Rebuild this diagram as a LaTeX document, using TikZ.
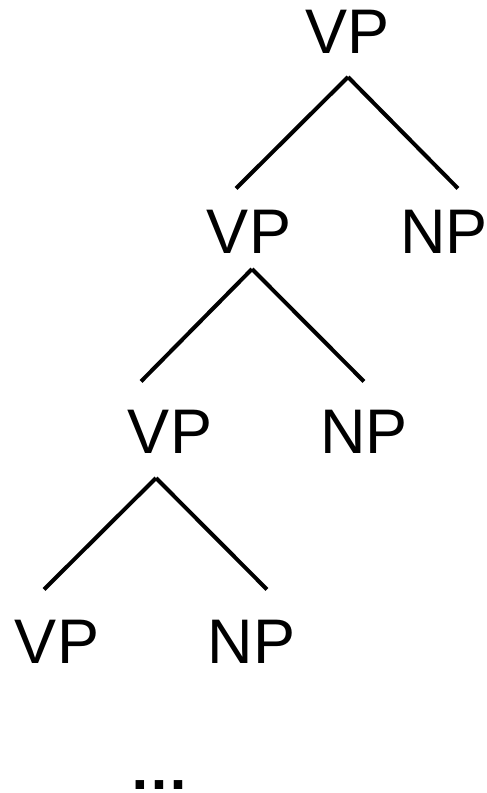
\documentclass[tikz,border=0pt]{standalone}
\usepackage{fontspec}
\setmainfont{Liberation Sans}

\begin{document}
\begin{tikzpicture}[
        x = 1pt, y = -1pt,
        cat/.style = {anchor=base, inner sep=0pt, font=\fontsize{63}{70}\selectfont},
        branch/.style = {line width=4pt, line cap=butt}
    ]
    \useasboundingbox (0,0) rectangle (487,793);
    % categories
    \node (vp1) [cat] at (347.5,53)  {VP};
    \node (vp2) [cat] at (249,253)   {VP};
    \node (np2) [cat] at (444,253)   {NP};
    \node (vp3) [cat] at (170,453)   {VP};
    \node (np3) [cat] at (364,453)   {NP};
    \node (vp4) [cat] at (57,663)    {VP};
    \node (np4) [cat] at (251.5,663) {NP};
    \node (dots) [cat, font=\fontsize{60}{66}\selectfont\bfseries] at (159.5,789) {…};
    % branches
    \draw[branch] ([xshift=0.5pt,yshift=-24pt]vp1.base) -- ([xshift=-13pt,yshift=21pt]vp2.north);
    \draw[branch] ([xshift=0.5pt,yshift=-24pt]vp1.base) -- ([xshift=14pt,yshift=21pt]np2.north);
    \draw[branch] ([xshift=3pt,yshift=-16pt]vp2.base) -- ([xshift=-29pt,yshift=28pt]vp3.north);
    \draw[branch] ([xshift=3pt,yshift=-16pt]vp2.base) -- ([yshift=28pt]np3.north);
    \draw[branch] ([xshift=-14pt,yshift=-25pt]vp3.base) -- ([xshift=-13pt,yshift=30pt]vp4.north);
    \draw[branch] ([xshift=-14pt,yshift=-25pt]vp3.base) -- ([xshift=15.5pt,yshift=30pt]np4.north);
\end{tikzpicture}
\end{document}
